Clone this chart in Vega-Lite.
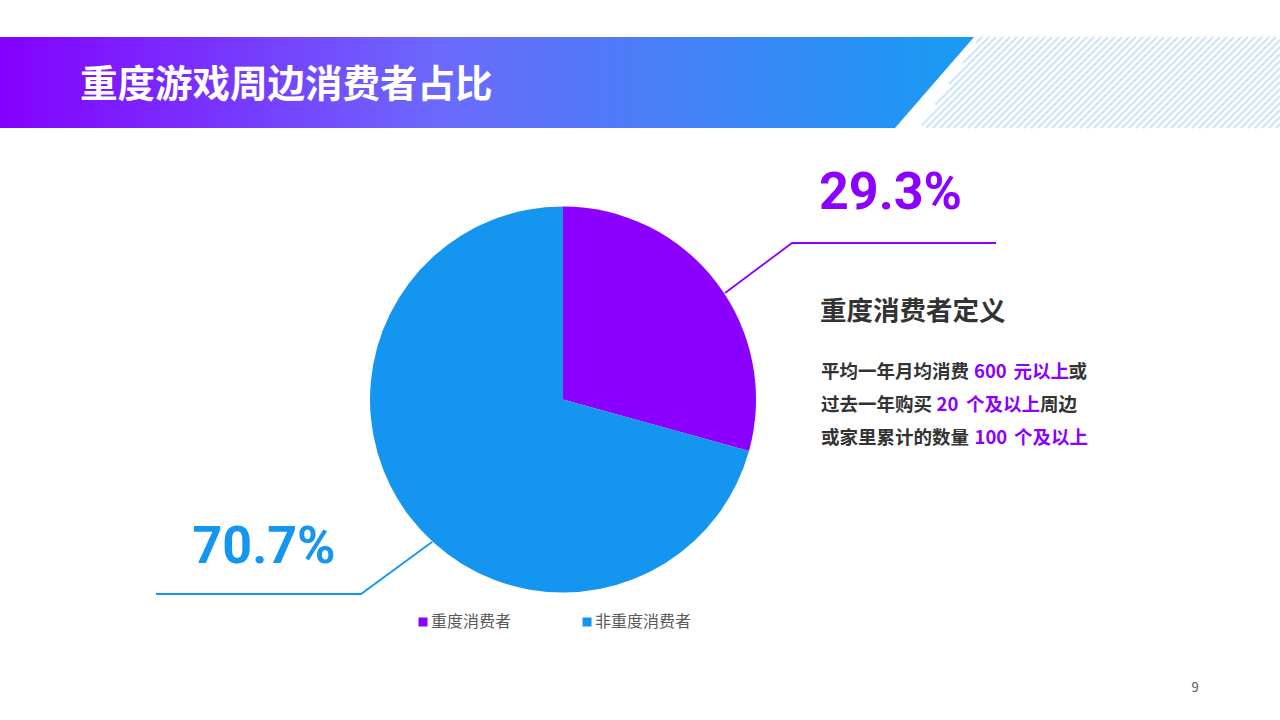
{
  "$schema": "https://vega.github.io/schema/vega-lite/v6.json",
  "width": 1280,
  "height": 720,
  "autosize": {"type": "none"},
  "padding": 0,
  "background": "white",
  "config": {
    "view": {"stroke": null},
    "font": "Noto Sans CJK SC",
    "text": {"font": "Noto Sans CJK SC"}
  },
  "datasets": {
    "share": [
      {"group": "重度消费者", "pct": 29.3, "label": "29.3%"},
      {"group": "非重度消费者", "pct": 70.7, "label": "70.7%"}
    ]
  },
  "layer": [
    {
      "data": {"values": [{"part": "banner"}]},
      "mark": {
        "type": "point",
        "shape": "M0 0L974 0L895 91L0 91Z",
        "size": 4,
        "filled": true,
        "opacity": 1,
        "strokeWidth": 0,
        "fill": {
          "gradient": "linear",
          "x1": 0, "y1": 0, "x2": 1, "y2": 0,
          "stops": [
            {"offset": 0, "color": "#8400FF"},
            {"offset": 0.45, "color": "#6C69FC"},
            {"offset": 1, "color": "#169CF2"}
          ]
        }
      },
      "encoding": {
        "x": {"datum": 0, "type": "quantitative", "scale": {"domain": [0, 1280], "nice": false, "zero": false}, "axis": null},
        "y": {"datum": 37, "type": "quantitative", "scale": {"domain": [0, 720], "nice": false, "zero": false, "reverse": true}, "axis": null}
      }
    },
    {
      "data": {"values": [{"part": "hatch"}]},
      "mark": {
        "type": "point",
        "shape": "M62 0L56.1 5.9M69 0L42.6 26.4M76 0L29 47M83 0L15.5 67.5M90 0L1.9 88.1M97 0L6 91M104 0L13 91M111 0L20 91M118 0L27 91M125 0L34 91M132 0L41 91M139 0L48 91M146 0L55 91M153 0L62 91M160 0L69 91M167 0L76 91M174 0L83 91M181 0L90 91M188 0L97 91M195 0L104 91M202 0L111 91M209 0L118 91M216 0L125 91M223 0L132 91M230 0L139 91M237 0L146 91M244 0L153 91M251 0L160 91M258 0L167 91M265 0L174 91M272 0L181 91M279 0L188 91M286 0L195 91M293 0L202 91M300 0L209 91M307 0L216 91M314 0L223 91M321 0L230 91M328 0L237 91M335 0L244 91M342 0L251 91M349 0L258 91M356 0L265 91M360 3L272 91M360 10L279 91M360 17L286 91M360 24L293 91M360 31L300 91M360 38L307 91M360 45L314 91M360 52L321 91M360 59L328 91M360 66L335 91M360 73L342 91M360 80L349 91M360 87L356 91",
        "size": 4,
        "filled": false,
        "opacity": 1,
        "stroke": "#CBE5FA",
        "strokeWidth": 2
      },
      "encoding": {
        "x": {"datum": 920, "type": "quantitative", "scale": {"domain": [0, 1280], "nice": false, "zero": false}, "axis": null},
        "y": {"datum": 37, "type": "quantitative", "scale": {"domain": [0, 720], "nice": false, "zero": false, "reverse": true}, "axis": null}
      }
    },
    {
      "data": {"values": [{"text": "重度游戏周边消费者占比"}]},
      "mark": {"type": "text", "fontSize": 37.5, "fontWeight": "bold", "color": "white", "align": "left", "baseline": "alphabetic"},
      "encoding": {
        "text": {"field": "text"},
        "x": {"datum": 80, "type": "quantitative", "scale": {"domain": [0, 1280], "nice": false, "zero": false}, "axis": null},
        "y": {"datum": 96.5, "type": "quantitative", "scale": {"domain": [0, 720], "nice": false, "zero": false, "reverse": true}, "axis": null}
      }
    },
    {
      "data": {"name": "share"},
      "mark": {"type": "arc", "outerRadius": 193},
      "encoding": {
        "theta": {"field": "pct", "type": "quantitative", "stack": true},
        "color": {
          "field": "group",
          "type": "nominal",
          "scale": {"domain": ["重度消费者", "非重度消费者"], "range": ["#8B00FF", "#1496F0"]},
          "legend": {
            "title": null,
            "orient": "none",
            "legendX": 415,
            "legendY": 614,
            "direction": "horizontal",
            "symbolType": "square",
            "symbolSize": 81,
            "symbolStrokeWidth": 0,
            "labelFont": "Noto Sans CJK SC",
            "labelFontSize": 16,
            "labelColor": "#595959",
            "labelOffset": 0,
            "columnPadding": 67
          }
        },
        "x": {"datum": 563, "type": "quantitative", "scale": {"domain": [0, 1280], "nice": false, "zero": false}, "axis": null},
        "y": {"datum": 399.5, "type": "quantitative", "scale": {"domain": [0, 720], "nice": false, "zero": false, "reverse": true}, "axis": null}
      }
    },
    {
      "data": {"values": [{"part": "leader"}]},
      "mark": {"type": "point", "shape": "M0 0L67 -50L271 -50", "size": 4, "filled": false, "opacity": 1, "stroke": "#8B00FF", "strokeWidth": 1.8},
      "encoding": {
        "x": {"datum": 725, "type": "quantitative", "scale": {"domain": [0, 1280], "nice": false, "zero": false}, "axis": null},
        "y": {"datum": 293, "type": "quantitative", "scale": {"domain": [0, 720], "nice": false, "zero": false, "reverse": true}, "axis": null}
      }
    },
    {
      "data": {"values": [{"part": "leader"}]},
      "mark": {"type": "point", "shape": "M0 0L-71 52L-276 52", "size": 4, "filled": false, "opacity": 1, "stroke": "#1496F0", "strokeWidth": 1.8},
      "encoding": {
        "x": {"datum": 432, "type": "quantitative", "scale": {"domain": [0, 1280], "nice": false, "zero": false}, "axis": null},
        "y": {"datum": 542, "type": "quantitative", "scale": {"domain": [0, 720], "nice": false, "zero": false, "reverse": true}, "axis": null}
      }
    },
    {
      "data": {"name": "share"},
      "transform": [{"filter": "datum.group === '重度消费者'"}],
      "mark": {"type": "text", "font": "Roboto", "fontSize": 52, "fontWeight": "bold", "color": "#8B00FF", "align": "center", "baseline": "alphabetic"},
      "encoding": {
        "text": {"field": "label"},
        "x": {"datum": 890.5, "type": "quantitative", "scale": {"domain": [0, 1280], "nice": false, "zero": false}, "axis": null},
        "y": {"datum": 209, "type": "quantitative", "scale": {"domain": [0, 720], "nice": false, "zero": false, "reverse": true}, "axis": null}
      }
    },
    {
      "data": {"name": "share"},
      "transform": [{"filter": "datum.group === '非重度消费者'"}],
      "mark": {"type": "text", "font": "Roboto", "fontSize": 52, "fontWeight": "bold", "color": "#1496F0", "align": "center", "baseline": "alphabetic"},
      "encoding": {
        "text": {"field": "label"},
        "x": {"datum": 264, "type": "quantitative", "scale": {"domain": [0, 1280], "nice": false, "zero": false}, "axis": null},
        "y": {"datum": 563, "type": "quantitative", "scale": {"domain": [0, 720], "nice": false, "zero": false, "reverse": true}, "axis": null}
      }
    },
    {
      "data": {"values": [{"text": "重度消费者定义"}]},
      "mark": {"type": "text", "fontSize": 26.5, "fontWeight": "bold", "color": "#333333", "align": "left", "baseline": "alphabetic"},
      "encoding": {
        "text": {"field": "text"},
        "x": {"datum": 820, "type": "quantitative", "scale": {"domain": [0, 1280], "nice": false, "zero": false}, "axis": null},
        "y": {"datum": 320, "type": "quantitative", "scale": {"domain": [0, 720], "nice": false, "zero": false, "reverse": true}, "axis": null}
      }
    },
    {
      "data": {"values": [{"text": "平均一年月均消费"}]},
      "mark": {"type": "text", "fontSize": 18.5, "fontWeight": "bold", "color": "#333333", "align": "left", "baseline": "alphabetic"},
      "encoding": {
        "text": {"field": "text"},
        "x": {"datum": 821, "type": "quantitative", "scale": {"domain": [0, 1280], "nice": false, "zero": false}, "axis": null},
        "y": {"datum": 378, "type": "quantitative", "scale": {"domain": [0, 720], "nice": false, "zero": false, "reverse": true}, "axis": null}
      }
    },
    {
      "data": {"values": [{"text": "600"}]},
      "mark": {"type": "text", "fontSize": 18.5, "fontWeight": "bold", "color": "#8B00FF", "align": "left", "baseline": "alphabetic"},
      "encoding": {
        "text": {"field": "text"},
        "x": {"datum": 974, "type": "quantitative", "scale": {"domain": [0, 1280], "nice": false, "zero": false}, "axis": null},
        "y": {"datum": 378, "type": "quantitative", "scale": {"domain": [0, 720], "nice": false, "zero": false, "reverse": true}, "axis": null}
      }
    },
    {
      "data": {"values": [{"text": "元以上"}]},
      "mark": {"type": "text", "fontSize": 18.5, "fontWeight": "bold", "color": "#8B00FF", "align": "left", "baseline": "alphabetic"},
      "encoding": {
        "text": {"field": "text"},
        "x": {"datum": 1013.5, "type": "quantitative", "scale": {"domain": [0, 1280], "nice": false, "zero": false}, "axis": null},
        "y": {"datum": 378, "type": "quantitative", "scale": {"domain": [0, 720], "nice": false, "zero": false, "reverse": true}, "axis": null}
      }
    },
    {
      "data": {"values": [{"text": "或"}]},
      "mark": {"type": "text", "fontSize": 18.5, "fontWeight": "bold", "color": "#333333", "align": "left", "baseline": "alphabetic"},
      "encoding": {
        "text": {"field": "text"},
        "x": {"datum": 1068.5, "type": "quantitative", "scale": {"domain": [0, 1280], "nice": false, "zero": false}, "axis": null},
        "y": {"datum": 378, "type": "quantitative", "scale": {"domain": [0, 720], "nice": false, "zero": false, "reverse": true}, "axis": null}
      }
    },
    {
      "data": {"values": [{"text": "过去一年购买"}]},
      "mark": {"type": "text", "fontSize": 18.5, "fontWeight": "bold", "color": "#333333", "align": "left", "baseline": "alphabetic"},
      "encoding": {
        "text": {"field": "text"},
        "x": {"datum": 821, "type": "quantitative", "scale": {"domain": [0, 1280], "nice": false, "zero": false}, "axis": null},
        "y": {"datum": 411, "type": "quantitative", "scale": {"domain": [0, 720], "nice": false, "zero": false, "reverse": true}, "axis": null}
      }
    },
    {
      "data": {"values": [{"text": "20"}]},
      "mark": {"type": "text", "fontSize": 18.5, "fontWeight": "bold", "color": "#8B00FF", "align": "left", "baseline": "alphabetic"},
      "encoding": {
        "text": {"field": "text"},
        "x": {"datum": 936.5, "type": "quantitative", "scale": {"domain": [0, 1280], "nice": false, "zero": false}, "axis": null},
        "y": {"datum": 411, "type": "quantitative", "scale": {"domain": [0, 720], "nice": false, "zero": false, "reverse": true}, "axis": null}
      }
    },
    {
      "data": {"values": [{"text": "个及以上"}]},
      "mark": {"type": "text", "fontSize": 18.5, "fontWeight": "bold", "color": "#8B00FF", "align": "left", "baseline": "alphabetic"},
      "encoding": {
        "text": {"field": "text"},
        "x": {"datum": 966, "type": "quantitative", "scale": {"domain": [0, 1280], "nice": false, "zero": false}, "axis": null},
        "y": {"datum": 411, "type": "quantitative", "scale": {"domain": [0, 720], "nice": false, "zero": false, "reverse": true}, "axis": null}
      }
    },
    {
      "data": {"values": [{"text": "周边"}]},
      "mark": {"type": "text", "fontSize": 18.5, "fontWeight": "bold", "color": "#333333", "align": "left", "baseline": "alphabetic"},
      "encoding": {
        "text": {"field": "text"},
        "x": {"datum": 1040, "type": "quantitative", "scale": {"domain": [0, 1280], "nice": false, "zero": false}, "axis": null},
        "y": {"datum": 411, "type": "quantitative", "scale": {"domain": [0, 720], "nice": false, "zero": false, "reverse": true}, "axis": null}
      }
    },
    {
      "data": {"values": [{"text": "或家里累计的数量"}]},
      "mark": {"type": "text", "fontSize": 18.5, "fontWeight": "bold", "color": "#333333", "align": "left", "baseline": "alphabetic"},
      "encoding": {
        "text": {"field": "text"},
        "x": {"datum": 821, "type": "quantitative", "scale": {"domain": [0, 1280], "nice": false, "zero": false}, "axis": null},
        "y": {"datum": 444, "type": "quantitative", "scale": {"domain": [0, 720], "nice": false, "zero": false, "reverse": true}, "axis": null}
      }
    },
    {
      "data": {"values": [{"text": "100"}]},
      "mark": {"type": "text", "fontSize": 18.5, "fontWeight": "bold", "color": "#8B00FF", "align": "left", "baseline": "alphabetic"},
      "encoding": {
        "text": {"field": "text"},
        "x": {"datum": 974.5, "type": "quantitative", "scale": {"domain": [0, 1280], "nice": false, "zero": false}, "axis": null},
        "y": {"datum": 444, "type": "quantitative", "scale": {"domain": [0, 720], "nice": false, "zero": false, "reverse": true}, "axis": null}
      }
    },
    {
      "data": {"values": [{"text": "个及以上"}]},
      "mark": {"type": "text", "fontSize": 18.5, "fontWeight": "bold", "color": "#8B00FF", "align": "left", "baseline": "alphabetic"},
      "encoding": {
        "text": {"field": "text"},
        "x": {"datum": 1014, "type": "quantitative", "scale": {"domain": [0, 1280], "nice": false, "zero": false}, "axis": null},
        "y": {"datum": 444, "type": "quantitative", "scale": {"domain": [0, 720], "nice": false, "zero": false, "reverse": true}, "axis": null}
      }
    },
    {
      "data": {"values": [{"text": "9"}]},
      "mark": {"type": "text", "fontSize": 13, "color": "#595959", "align": "center", "baseline": "alphabetic"},
      "encoding": {
        "text": {"field": "text"},
        "x": {"datum": 1195, "type": "quantitative", "scale": {"domain": [0, 1280], "nice": false, "zero": false}, "axis": null},
        "y": {"datum": 692, "type": "quantitative", "scale": {"domain": [0, 720], "nice": false, "zero": false, "reverse": true}, "axis": null}
      }
    }
  ]
}
